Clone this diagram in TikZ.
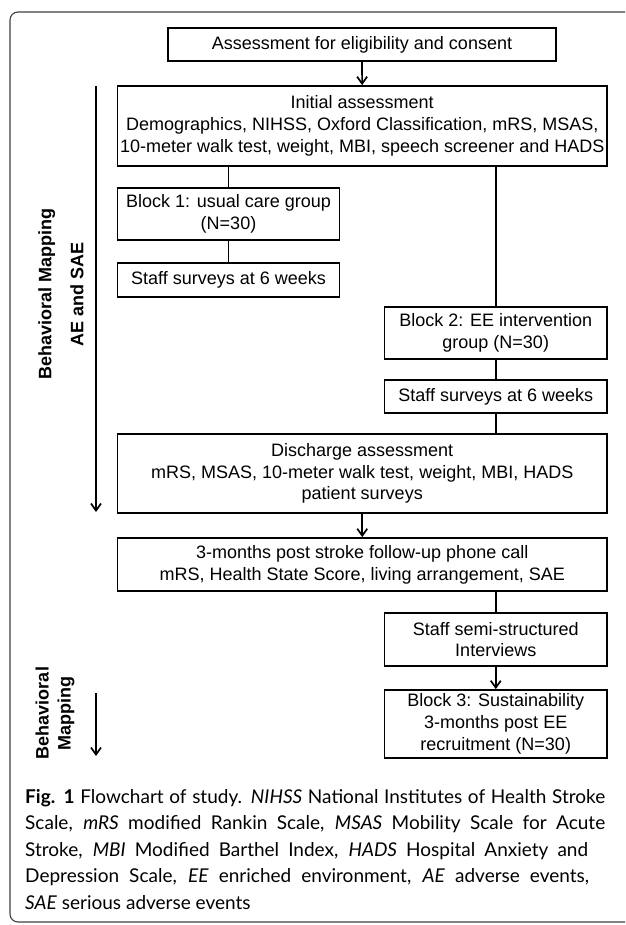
\documentclass[tikz,border=0pt]{standalone}
\usepackage{fontspec}
\setmainfont{Liberation Sans}
\newfontfamily\capfont{Lato}
\usetikzlibrary{arrows.meta}
\tikzstyle{box}=[rectangle,draw=black,line width=1.7pt,align=center,inner sep=0pt,font=\fontsize{18}{21.7}\selectfont]
\tikzstyle{wide_box}=[box,minimum width=489.5pt]
\tikzstyle{half_box}=[box,minimum width=222.5pt]
\tikzstyle{flow}=[line width=1.7pt]
\tikzstyle{flow_arrow}=[line width=1.7pt,-{Straight Barb[length=7pt,width=10pt]}]
\tikzstyle{side_label}=[rotate=90,align=center,font=\bfseries\fontsize{18}{22}\selectfont]

\begin{document}
\begin{tikzpicture}[x=1pt,y=-1pt]
    \useasboundingbox (0,0) rectangle (625,925);
    \clip (0,0) rectangle (625,925);
    \draw [rounded corners=8pt, draw=black!75, line width=1.1pt] (10,12) rectangle (660,922);

    \node (consent) at (362,44.5) [box, minimum width=388pt, minimum height=33pt] {Assessment for eligibility and consent};
    \node (initial) at (362.25,126) [wide_box, minimum height=80pt] {Initial assessment\\Demographics, NIHSS, Oxford Classification, mRS, MSAS,\\10-meter walk test, weight, MBI, speech screener and HADS};
    \node (block1) at (228.5,214) [box, minimum width=222pt, minimum height=52pt] {Block 1: usual care group\\(N=30)};
    \node (staff1) at (228.5,280) [box, minimum width=222pt, minimum height=34pt] {Staff surveys at 6 weeks};
    \node (block2) at (495.75,333) [half_box, minimum height=52pt] {Block 2: EE intervention\\group (N=30)};
    \node (staff2) at (495.75,396.5) [half_box, minimum height=33pt] {Staff surveys at 6 weeks};
    \node (discharge) at (362.25,473.5) [wide_box, minimum height=79pt] {Discharge assessment\\mRS, MSAS, 10-meter walk test, weight, MBI, HADS\\patient surveys};
    \node (followup) at (362.25,564.5) [wide_box, minimum height=53pt] {3-months post stroke follow-up phone call\\mRS, Health State Score, living arrangement, SAE};
    \node (interviews) at (495.75,639.5) [half_box, minimum height=53pt] {Staff semi-structured\\Interviews};
    \node (block3) at (495.75,724) [half_box, minimum height=68pt] {Block 3: Sustainability\\3-months post EE\\recruitment (N=30)};

    \draw (consent) -- (initial) [flow_arrow];
    \draw (block1.north |- initial.south) -- (block1.north) [flow];
    \draw (block2.north |- initial.south) -- (block2.north) [flow];
    \draw (block1) -- (staff1) [flow];
    \draw (block2) -- (staff2) [flow];
    \draw (staff2.south) -- (staff2.south |- discharge.north) [flow];
    \draw (discharge) -- (followup) [flow_arrow];
    \draw (interviews.north |- followup.south) -- (interviews.north) [flow];
    \draw (interviews) -- (block3) [flow_arrow];

    % side timelines
    \coordinate (bm_start) at (96,86);
    \coordinate (bm_end) at (96,512);
    \coordinate (bm2_start) at (96,693);
    \coordinate (bm2_end) at (96,756);
    \draw (bm_start) -- (bm_end) [flow_arrow];
    \draw (bm2_start) -- (bm2_end) [flow_arrow];
    \node (bm_label) at (61,294) [side_label] {Behavioral Mapping\\[10pt]AE and SAE};
    \node (bm2_label) at (55,713) [side_label] {Behavioral\\Mapping};

    \node (caption) at (25,789) [anchor=north west, align=left, inner sep=0pt, font=\capfont\fontsize{19}{26.5}\selectfont]
      {\makebox[580pt][s]{\textbf{Fig. 1} Flowchart of study. \textit{NIHSS} National Institutes of Health Stroke}\\
       \makebox[580pt][s]{Scale, \textit{mRS} modified Rankin Scale, \textit{MSAS} Mobility Scale for Acute}\\
       \makebox[563pt][s]{Stroke, \textit{MBI} Modified Barthel Index, \textit{HADS} Hospital Anxiety and}\\
       \makebox[564pt][s]{Depression Scale, \textit{EE} enriched environment, \textit{AE} adverse events,}\\
       \textit{SAE} serious adverse events};
\end{tikzpicture}
\end{document}
